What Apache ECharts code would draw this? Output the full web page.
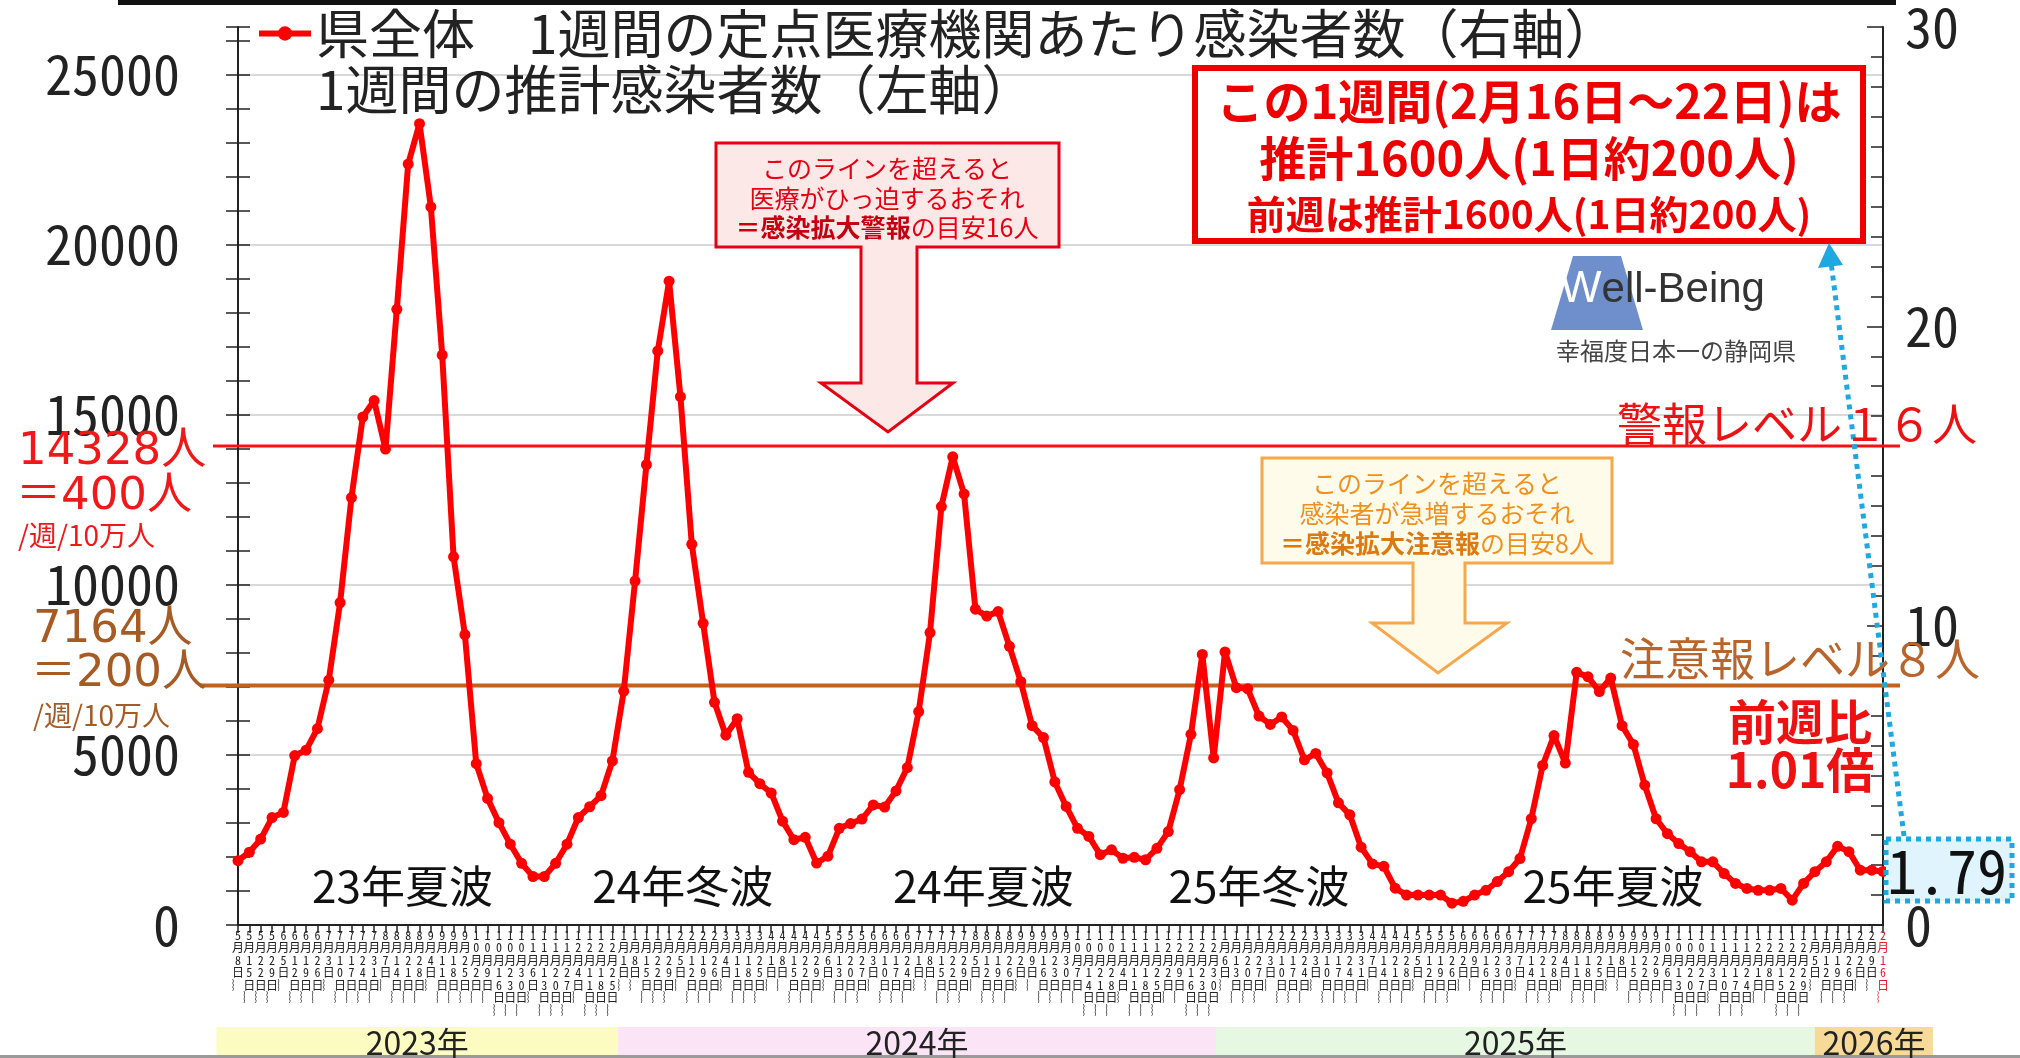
<!DOCTYPE html>
<html lang="ja">
<head>
<meta charset="utf-8">
<title>静岡県 週別感染者数</title>
<script src="https://cdn.jsdelivr.net/npm/echarts@6.0.0/dist/echarts.min.js"></script>
<style>
html,body{margin:0;padding:0;background:#fff;}
#chart{width:2020px;height:1058px;}
</style>
</head>
<body>
<div id="chart"></div>
<script>
// ---- data ----
const weekLabels = [
 '5月8日','5月15日','5月22日','5月29日','6月5日','6月12日','6月19日','6月26日',
 '7月3日','7月10日','7月17日','7月24日','7月31日','8月7日','8月14日','8月21日','8月28日',
 '9月4日','9月11日','9月18日','9月25日','10月2日','10月9日','10月16日','10月23日','10月30日',
 '11月6日','11月13日','11月20日','11月27日','12月4日','12月11日','12月18日','12月25日',
 '1月1日','1月8日','1月15日','1月22日','1月29日','2月5日','2月12日','2月19日','2月26日',
 '3月4日','3月11日','3月18日','3月25日','4月1日','4月8日','4月15日','4月22日','4月29日',
 '5月6日','5月13日','5月20日','5月27日','6月3日','6月10日','6月17日','6月24日',
 '7月1日','7月8日','7月15日','7月22日','7月29日','8月5日','8月12日','8月19日','8月26日',
 '9月2日','9月9日','9月16日','9月23日','9月30日','10月7日','10月14日','10月21日','10月28日',
 '11月4日','11月11日','11月18日','11月25日','12月2日','12月9日','12月16日','12月23日','12月30日',
 '1月6日','1月13日','1月20日','1月27日','2月3日','2月10日','2月17日','2月24日',
 '3月3日','3月10日','3月17日','3月24日','3月31日','4月7日','4月14日','4月21日','4月28日',
 '5月5日','5月12日','5月19日','5月26日','6月2日','6月9日','6月16日','6月23日','6月30日',
 '7月7日','7月14日','7月21日','7月28日','8月4日','8月11日','8月18日','8月25日',
 '9月1日','9月8日','9月15日','9月22日','9月29日','10月6日','10月13日','10月20日','10月27日',
 '11月3日','11月10日','11月17日','11月24日','12月1日','12月8日','12月15日','12月22日','12月29日',
 '1月5日','1月12日','1月19日','1月26日','2月2日','2月9日','2月16日'
];
// 1週間の定点医療機関あたり感染者数（右軸）
const perSentinel = [
 2.15, 2.43, 2.87, 3.59, 3.76, 5.66, 5.84, 6.56, 8.18, 10.77,
 14.28, 16.97, 17.52, 15.90, 20.57, 25.42, 26.77, 23.99, 19.04, 12.30,
 9.70, 5.39, 4.23, 3.42, 2.70, 2.06, 1.62, 1.62, 2.06, 2.70,
 3.59, 3.95, 4.32, 5.48, 7.81, 11.49, 15.38, 19.18, 21.51, 17.65,
 12.72, 10.08, 7.44, 6.34, 6.89, 5.10, 4.72, 4.41, 3.47, 2.85,
 2.93, 2.07, 2.30, 3.23, 3.39, 3.54, 4.01, 3.94, 4.48, 5.26,
 7.13, 9.77, 13.98, 15.64, 14.40, 10.55, 10.32, 10.47, 9.31, 8.13,
 6.66, 6.26, 4.78, 3.96, 3.23, 2.96, 2.35, 2.51, 2.23, 2.26,
 2.18, 2.56, 3.12, 4.52, 6.37, 9.04, 5.58, 9.12, 7.93, 7.89,
 6.98, 6.70, 6.95, 6.50, 5.52, 5.73, 5.08, 4.08, 3.68, 2.60,
 2.04, 1.96, 1.23, 1.00, 1.00, 1.00, 1.00, 0.73, 0.79, 1.00,
 1.16, 1.45, 1.78, 2.22, 3.55, 5.33, 6.33, 5.41, 8.44, 8.29,
 7.80, 8.25, 6.66, 6.03, 4.67, 3.55, 3.05, 2.72, 2.45, 2.11,
 2.11, 1.72, 1.39, 1.22, 1.16, 1.16, 1.22, 0.83, 1.39, 1.78,
 2.11, 2.63, 2.45, 1.83, 1.83, 1.79
];
const leftAxisTicks = [0, 5000, 10000, 15000, 20000, 25000];
const rightAxisTicks = [0, 10, 20, 30];
const warningLevel = 16;   // 警報レベル
const cautionLevel = 8;    // 注意報レベル
const waveLabels = ['23年夏波', '24年冬波', '24年夏波', '25年冬波', '25年夏波'];
const yearLabels = ['2023年', '2024年', '2025年', '2026年'];
const seriesName = '県全体　1週間の定点医療機関あたり感染者数（右軸）';

// ---- style / layout ----
const JP = '"Noto Sans CJK JP", "Noto Sans", sans-serif';
const NARROW = '"Noto Sans Mono CJK JP", "Liberation Sans Narrow", "Liberation Sans", sans-serif';
const lastIdx = weekLabels.length - 1;

function verticalLabel(v, idx) {
  const tag = idx === lastIdx ? 'r' : 'n';
  return Array.from(v + '︴').map(c => '{' + tag + '|' + c + '}').join('\n');
}

const chart = echarts.init(document.getElementById('chart'), null, {renderer: 'canvas'});

const tickStyle = {color: '#222', width: 1.5};
const option = {
  animation: false,
  backgroundColor: '#ffffff',
  textStyle: {fontFamily: JP},
  legend: {
    left: 251, top: 2, selectedMode: false,
    itemWidth: 52, itemHeight: 18, itemGap: 10,
    lineStyle: {width: 6, color: '#ff0000'},
    textStyle: {fontSize: 53, color: '#222', fontFamily: JP},
    data: [seriesName]
  },
  grid: {left: 238, right: 137, top: 26, bottom: 133},
  xAxis: {
    type: 'category', data: weekLabels, boundaryGap: false,
    axisLine: {lineStyle: {color: '#222', width: 2}},
    axisTick: {show: true, interval: 0, length: 8, lineStyle: tickStyle},
    axisLabel: {
      interval: 0, margin: 4, formatter: verticalLabel,
      rich: {
        n: {fontSize: 12, lineHeight: 12.5, color: '#222', fontFamily: NARROW},
        r: {fontSize: 12, lineHeight: 12.5, color: '#e02030', fontFamily: NARROW}
      }
    },
    splitLine: {show: false}
  },
  yAxis: [
    { // left: 推計感染者数 labels + grid lines
      type: 'value', position: 'left', min: 0, max: 26400, interval: 5000,
      axisLine: {show: true, lineStyle: {color: '#222', width: 2}},
      axisTick: {show: false},
      axisLabel: {fontSize: 54, margin: 58, color: '#222', fontFamily: NARROW, showMaxLabel: false,
        formatter: v => leftAxisTicks.includes(v) ? String(v) : ''},
      splitLine: {show: true, showMaxLine: false, lineStyle: {color: '#d9d9d9', width: 2}}
    },
    { // right: 定点あたり
      type: 'value', position: 'right', min: 0, max: 30, interval: 10,
      axisLine: {show: true, lineStyle: {color: '#222', width: 2}},
      axisTick: {show: true, inside: true, length: 16, lineStyle: tickStyle},
      minorTick: {show: true, splitNumber: 10, length: 12, lineStyle: tickStyle},
      axisLabel: {fontSize: 54, margin: 22, color: '#222', fontFamily: NARROW,
        formatter: v => rightAxisTicks.includes(v) ? String(v) : ''},
      splitLine: {show: false}
    },
    { // left ticks outside
      type: 'value', position: 'left', min: 0, max: 26400, interval: 1000,
      axisLine: {show: false}, axisLabel: {show: false}, splitLine: {show: false},
      axisTick: {show: true, length: 12, lineStyle: tickStyle}
    },
    { // left ticks inside
      type: 'value', position: 'left', min: 0, max: 26400, interval: 1000,
      axisLine: {show: false}, axisLabel: {show: false}, splitLine: {show: false},
      axisTick: {show: true, inside: true, length: 12, lineStyle: tickStyle}
    }
  ],
  series: [{
    name: seriesName, type: 'line', yAxisIndex: 1, data: perSentinel,
    symbol: 'circle', symbolSize: 11, showSymbol: true,
    lineStyle: {color: '#ff0000', width: 6},
    itemStyle: {color: '#ff0000'},
    z: 5
  }]
};
chart.setOption(option);

// ---- annotations (positioned through the chart's own scales where tied to data) ----
const yWarn = chart.convertToPixel({yAxisIndex: 1}, warningLevel);
const yCaut = chart.convertToPixel({yAxisIndex: 1}, cautionLevel);
const x0 = chart.convertToPixel({xAxisIndex: 0}, 0);
const x1 = chart.convertToPixel({xAxisIndex: 0}, 1);
const xAt = i => x0 + (x1 - x0) * i;

function txt(text, x, y, size, fill, opts) {
  opts = opts || {};
  return {
    type: 'text', z: opts.z || 20,
    style: {
      text: text, x: x, y: y, fill: fill,
      fontSize: size, fontFamily: opts.family || JP, fontWeight: opts.weight || 'normal',
      textAlign: opts.align || 'center', align: opts.align || 'center',
      textVerticalAlign: 'middle', verticalAlign: 'middle',
      rich: opts.rich
    }
  };
}

const yearBands = [
  {label: yearLabels[0], from: -1.9, to: 33.5, color: '#fcfcc2'},
  {label: yearLabels[1], from: 33.5, to: 86.2, color: '#fbe4f6'},
  {label: yearLabels[2], from: 86.2, to: 139.0, color: '#e6f7e2'},
  {label: yearLabels[3], from: 139.0, to: 149.4, color: '#f8da98'}
];
const wavePos = [14.5, 39.2, 65.7, 90.0, 121.2];
const waveY = chart.convertToPixel({yAxisIndex: 1}, 1.3);
const WIDE = '"DejaVu Sans",' + JP;

const g = [];
// top black bar
g.push({type: 'rect', z: 20, shape: {x: 118, y: 0, width: 1778, height: 5}, style: {fill: '#111'}});
// bottom gray rule
g.push({type: 'rect', z: 20, shape: {x: 0, y: 1055, width: 2020, height: 3}, style: {fill: '#9a9a9a'}});
// year bands
yearBands.forEach(b => {
  const xa = xAt(b.from), xb = xAt(b.to);
  g.push({type: 'rect', z: 1, shape: {x: xa, y: 1027, width: xb - xa, height: 28}, style: {fill: b.color}});
  g.push(txt(b.label, (xa + xb) / 2, 1043, 32, '#222'));
});
// threshold lines
g.push({type: 'line', z: 1, shape: {x1: 213, y1: yWarn, x2: 1900, y2: yWarn}, style: {stroke: '#ff1010', lineWidth: 3}});
g.push({type: 'line', z: 1, shape: {x1: 200, y1: yCaut, x2: 1900, y2: yCaut}, style: {stroke: '#c2621e', lineWidth: 4}});
// left-side annotation of thresholds
g.push(txt('14328人', 18, yWarn + 6, 45, '#f01818', {align: 'left', family: WIDE}));
g.push(txt('＝400人', 16, yWarn + 51, 45, '#f01818', {align: 'left', family: WIDE}));
g.push(txt('/週/10万人', 18, yWarn + 89, 28, '#f01818', {align: 'left'}));
g.push(txt('7164人', 33, yCaut - 55, 45, '#a65a24', {align: 'left', family: WIDE}));
g.push(txt('＝200人', 31, yCaut - 11, 45, '#a65a24', {align: 'left', family: WIDE}));
g.push(txt('/週/10万人', 33, yCaut + 30, 28, '#a65a24', {align: 'left'}));
// right-side level labels
g.push(txt('警報レベル１６人', 1617, yWarn - 22, 45, '#ee1111', {align: 'left'}));
g.push(txt('注意報レベル８人', 1620, yCaut - 27, 45, '#b8642a', {align: 'left'}));
g.push(txt('前週比', 1800, 722, 48, '#ee1111', {weight: 'bold'}));
g.push(txt('1.01倍', 1800, 770, 48, '#ee1111', {weight: 'bold'}));
// wave labels
waveLabels.forEach((w, i) => g.push(txt(w, xAt(wavePos[i]), waveY, 44, '#111')));
// legend second line
g.push(txt('1週間の推計感染者数（左軸）', 316, 90, 53, '#222', {align: 'left'}));
// red warning callout with arrow
g.push({type: 'polygon', z: 15, shape: {points: [[716,143],[1059,143],[1059,247],[917,247],[917,383],[953,383],[888,432],[821,383],[861,383],[861,247],[716,247]]},
  style: {fill: '#fde8e8', stroke: '#e60012', lineWidth: 3}});
g.push(txt('このラインを超えると', 887, 168, 25, '#e60012'));
g.push(txt('医療がひっ迫するおそれ', 887, 198, 25, '#e60012'));
g.push(txt('{b|＝感染拡大警報}{n|の目安16人}', 887, 227, 25, '#e60012', {rich: {
  b: {fill: '#c40010', fontSize: 25, fontWeight: 'bold', fontFamily: JP},
  n: {fill: '#e60012', fontSize: 25, fontFamily: JP}}}));
// orange caution callout with arrow
g.push({type: 'polygon', z: 15, shape: {points: [[1262,458],[1612,458],[1612,563],[1465,563],[1465,623],[1507,623],[1438,673],[1372,623],[1413,623],[1413,563],[1262,563]]},
  style: {fill: '#fffbea', stroke: '#f6a84c', lineWidth: 3}});
g.push(txt('このラインを超えると', 1437, 483, 25, '#f0901e'));
g.push(txt('感染者が急増するおそれ', 1437, 513, 25, '#f0901e'));
g.push(txt('{b|＝感染拡大注意報}{n|の目安8人}', 1437, 543, 25, '#f0901e', {rich: {
  b: {fill: '#dc7a12', fontSize: 25, fontWeight: 'bold', fontFamily: JP},
  n: {fill: '#f0901e', fontSize: 25, fontFamily: JP}}}));
// info box
g.push({type: 'rect', z: 15, shape: {x: 1195, y: 68, width: 668, height: 173}, style: {fill: '#fff', stroke: '#ee0000', lineWidth: 6}});
g.push(txt('この1週間(2月16日～22日)は', 1529, 101, 47, '#ee0000', {weight: 'bold'}));
g.push(txt('推計1600人(1日約200人)', 1529, 158, 47, '#ee0000', {weight: 'bold'}));
g.push(txt('前週は推計1600人(1日約200人)', 1529, 214, 39, '#ee0000', {weight: 'bold'}));
// Well-Being logo
g.push({type: 'polygon', z: 15, shape: {points: [[1573,256],[1621,256],[1643,330],[1551,330]]}, style: {fill: '#6f8fcc'}});
g.push(txt('{w|W}{t|ell-Being}', 1560, 290, 42, '#333', {align: 'left', rich: {
  w: {fill: '#fff', fontSize: 44, fontFamily: '"Liberation Sans", sans-serif'},
  t: {fill: '#333', fontSize: 42, fontFamily: '"Liberation Sans", sans-serif'}}}));
g.push(txt('幸福度日本一の静岡県', 1676, 351, 24, '#444'));
// blue dotted pointer + value box
g.push({type: 'line', z: 16, shape: {x1: 1904, y1: 836, x2: 1831, y2: 262}, style: {stroke: '#1fa8e0', lineWidth: 5, lineDash: [5, 5]}});
g.push({type: 'polygon', z: 16, shape: {points: [[1829,243],[1818,268],[1843,265]]}, style: {fill: '#1fa8e0'}});
g.push({type: 'rect', z: 16, shape: {x: 1886, y: 839, width: 126, height: 62}, style: {fill: '#dff4fc', stroke: '#1fa8e0', lineWidth: 5, lineDash: [5, 5]}});
g.push(txt(String(perSentinel[lastIdx]), 1947, 871, 60, '#111', {family: NARROW}));

chart.setOption({graphic: {elements: g}});
</script>
</body>
</html>
